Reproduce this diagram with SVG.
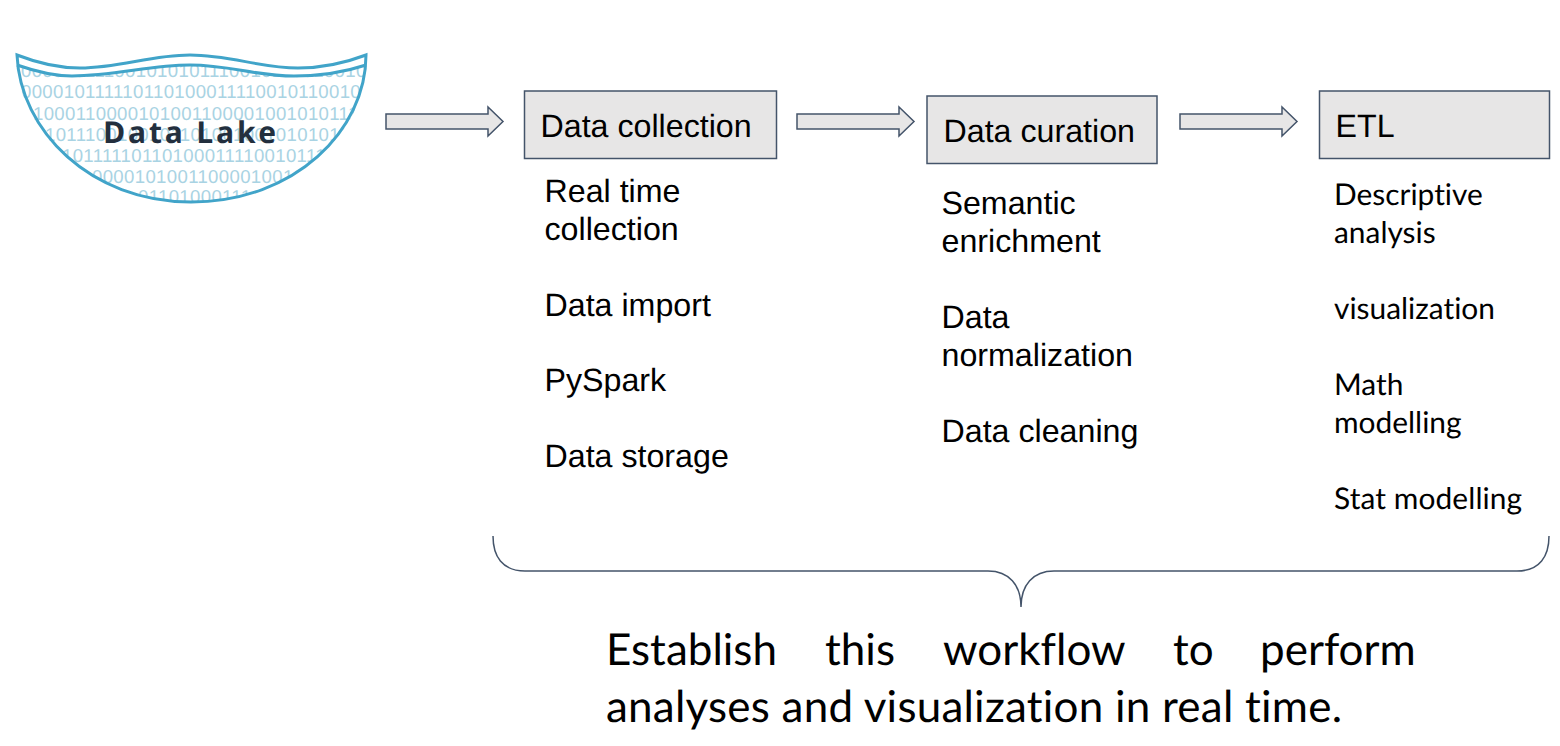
<svg xmlns="http://www.w3.org/2000/svg" width="1560" height="746" viewBox="0 0 1560 746">
<style>
text{text-rendering:geometricPrecision;font-variant-ligatures:none}
.box{fill:#e7e6e6;stroke:#44546a;stroke-width:1.5}
.arr{fill:#e7e6e6;stroke:#44546a;stroke-width:1.5}
.t{font-family:"Liberation Sans",Arial,sans-serif;font-size:32.2px;fill:#000}
.e{font-family:Lato,"Open Sans",sans-serif;font-size:29.9px;fill:#000}
.b{font-family:Lato,"Open Sans",sans-serif;font-size:44px;fill:#000}
.bin{font-family:"Liberation Sans",Arial,sans-serif;font-size:18.6px;letter-spacing:.34px;fill:#a9d3e3}
.lake{fill:none;stroke:#41a4c9;stroke-width:3}
</style>
<defs><clipPath id="bowl"><path d="M17 65C40 73 55 76 72 76C115 76 150 65 190 65C230 65 255 76 294 76C320 76 345 72 366 65C366 130 295 202 191 202C90 202 20 130 17 65Z"/></clipPath></defs>
<g id="data-lake">
<g clip-path="url(#bowl)">
<text class="bin" x="21" y="77">000010111001010101110010110010010</text>
<text class="bin" x="21" y="98">000010111110110100011110010110010</text>
<text class="bin" x="33" y="119.500">1000110000101001100001001010111</text>
<text class="bin" x="45" y="141">10111001001011010010010101011</text>
<text class="bin" x="62" y="162">10111110110100011110010111</text>
<text class="bin" x="92" y="183">00001010011000010010</text>
<text class="bin" x="138" y="203">01101000111</text>
</g>
<path class="lake" d="M17 55C40 64 60 68 80 68C120 68 150 55 190 55C230 55 260 68 298 68C325 68 345 63 366 55C366 130 295 202 191 202C90 202 20 130 17 55Z"/>
<path class="lake" d="M17 65C40 73 55 76 72 76C115 76 150 65 190 65C230 65 255 76 294 76C320 76 345 72 366 65"/>
<text x="103" y="142.500" style="font-family:'Open Sans',sans-serif;font-weight:700;font-size:30px;letter-spacing:2.8px;fill:#232f3e">Data Lake</text>
</g>
<g id="connectors">
<path class="arr" d="M386 114H488V107L503 121.500L488 136V129H386Z"/>
<path class="arr" d="M797 114H899V107L914 121.500L899 136V129H797Z"/>
<path class="arr" d="M1180 114H1282V107L1297 121.500L1282 136V129H1180Z"/>
<path d="M493 536C493 556 502 571 525 571H988C1009 571 1021 585 1021 607C1021 585 1033 571 1054 571H1517C1540 571 1549 556 1549 536" fill="none" stroke="#44546a" stroke-width="1.5"/>
</g>
<g id="data-collection"><rect class="box" x="524.500" y="91" width="252" height="67.500"/><text class="t" x="540.500" y="137">Data collection</text></g>
<g id="data-curation"><rect class="box" x="927" y="96" width="230" height="67.500"/><text class="t" x="943.500" y="142">Data curation</text></g>
<g id="etl"><rect class="box" x="1319.500" y="91" width="230" height="67.500"/><text class="t" x="1335.500" y="137">ETL</text></g>
<g id="collection-items">
<text class="t" x="544.500" y="202">Real time</text><text class="t" x="544.500" y="240">collection</text>
<text class="t" x="544.500" y="316">Data import</text><text class="t" x="544.500" y="391">PySpark</text><text class="t" x="544.500" y="467">Data storage</text>
</g>
<g id="curation-items">
<text class="t" x="941.500" y="214">Semantic</text><text class="t" x="941.500" y="252">enrichment</text>
<text class="t" x="941.500" y="328">Data</text><text class="t" x="941.500" y="366">normalization</text><text class="t" x="941.500" y="442">Data cleaning</text>
</g>
<g id="etl-items">
<text class="e" x="1334" y="205">Descriptive</text><text class="e" x="1334" y="243">analysis</text>
<text class="e" x="1334" y="319">visualization</text><text class="e" x="1334" y="395">Math</text><text class="e" x="1334" y="433">modelling</text><text class="e" x="1334" y="509" letter-spacing=".1">Stat modelling</text>
</g>
<g id="caption">
<text class="b" y="665"><tspan x="606">Establish</tspan><tspan x="825">this</tspan><tspan x="943">workflow</tspan><tspan x="1173">to</tspan><tspan x="1260">perform</tspan></text>
<text class="b" x="606" y="722" letter-spacing=".22">analyses and visualization in real time.</text>
</g>
</svg>
